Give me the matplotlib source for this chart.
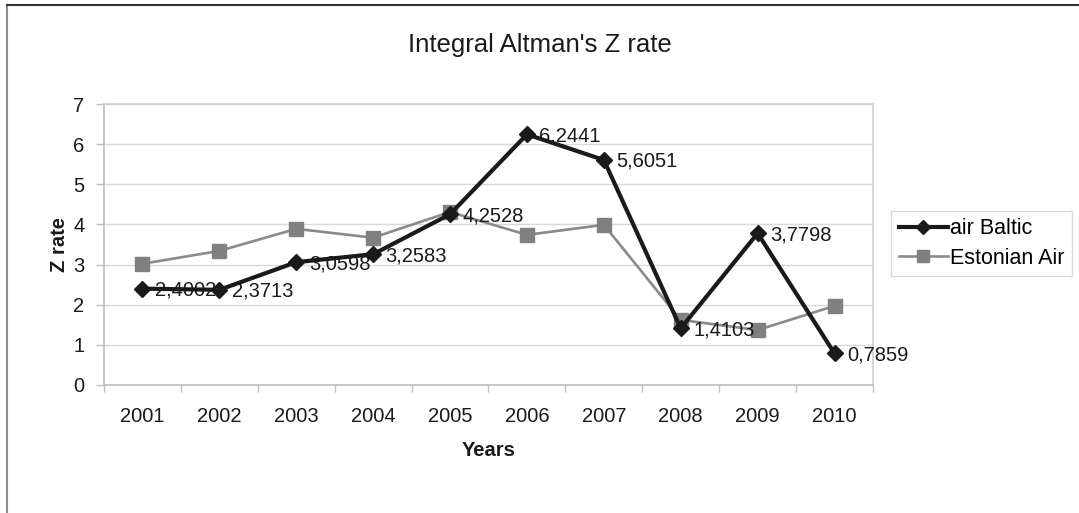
import matplotlib
matplotlib.use("Agg")
import matplotlib.pyplot as plt
from matplotlib.lines import Line2D
from matplotlib.ticker import FixedLocator

plt.rcParams['font.family'] = ['Liberation Sans', 'DejaVu Sans']

years = ['2001', '2002', '2003', '2004', '2005', '2006', '2007', '2008', '2009', '2010']
air_baltic = [2.4002, 2.3713, 3.0598, 3.2583, 4.2528, 6.2441, 5.6051, 1.4103, 3.7798, 0.7859]
estonian_air = [3.02, 3.34, 3.89, 3.67, 4.31, 3.74, 3.99, 1.62, 1.37, 1.97]
yticks = [0, 1, 2, 3, 4, 5, 6, 7]

title = "Integral Altman's Z rate"
xlabel = 'Years'
ylabel = 'Z rate'

fig = plt.figure(figsize=(10.79, 5.13), dpi=100)
W, H = 1079, 513
ax = fig.add_axes([104 / W, 1 - 385 / H, (873 - 104) / W, (385 - 104) / H])

x = list(range(len(years)))
ax.plot(x, estonian_air, color='#8a8a8a', lw=1.9, marker='s', ms=10,
        mfc='#808080', mec='#808080', label='Estonian Air', zorder=3)
ax.plot(x, air_baltic, color='#1a1a1a', lw=3.0, marker='D', ms=8.5,
        mfc='#1a1a1a', mec='#1a1a1a', label='air Baltic', zorder=4)

for xi, v in zip(x, air_baltic):
    ax.annotate(f"{v:.4f}".replace('.', ','), (xi, v), xytext=(9, -1),
                textcoords='offset points', va='center', ha='left',
                fontsize=14.5, color='#1a1a1a', zorder=5, annotation_clip=False)

ax.set_xlim(-0.5, len(years) - 0.5)
ax.set_ylim(0, 7)
ax.set_yticks(yticks)
ax.set_yticklabels([str(t) for t in yticks])
ax.set_xticks(x)
ax.set_xticklabels(years)
ax.xaxis.set_minor_locator(FixedLocator([i + 0.5 for i in range(-1, len(years))]))
ax.tick_params(axis='x', which='major', length=0, pad=16, labelsize=14.5, colors='#1a1a1a')
ax.tick_params(axis='x', which='minor', length=5, color='#c0c0c0', width=1)
ax.tick_params(axis='y', which='major', length=6, color='#c0c0c0', width=1,
               pad=8, labelsize=14.5, labelcolor='#1a1a1a')

ax.grid(axis='y', color='#d9d9d9', lw=1)
ax.set_axisbelow(True)
for s in ['top', 'right']:
    ax.spines[s].set_color('#d0d0d0')
for s in ['left', 'bottom']:
    ax.spines[s].set_color('#bdbdbd')
for s in ax.spines.values():
    s.set_linewidth(1.2)

ax.set_xlabel(xlabel, fontsize=14.5, fontweight='bold', labelpad=11, color='#1a1a1a')
ax.set_ylabel(ylabel, fontsize=14.5, fontweight='bold', labelpad=3, color='#1a1a1a')
fig.text(540 / W, 1 - 45 / H, title, ha='center', va='center', fontsize=18.5, color='#1a1a1a')

handles, labels = ax.get_legend_handles_labels()
leg = fig.legend(handles[::-1], labels[::-1], loc='center left',
                 bbox_to_anchor=(891 / W, 1 - 243.5 / H), fontsize=15.5,
                 frameon=True, fancybox=False, edgecolor='#d0d0d0',
                 handlelength=2.3, handletextpad=0.1, borderpad=0.35,
                 labelspacing=0.4, borderaxespad=0, markerscale=0.8)
leg.get_frame().set_linewidth(1)

fig.add_artist(Line2D([7 / W, 7 / W], [0, 1 - 5 / H], color='#8c8c8c', lw=1.5,
                      transform=fig.transFigure))
fig.add_artist(Line2D([7 / W, 1], [1 - 5 / H, 1 - 5 / H], color='#333333', lw=1.5,
                      transform=fig.transFigure))

fig.savefig('out.png', dpi=100)
